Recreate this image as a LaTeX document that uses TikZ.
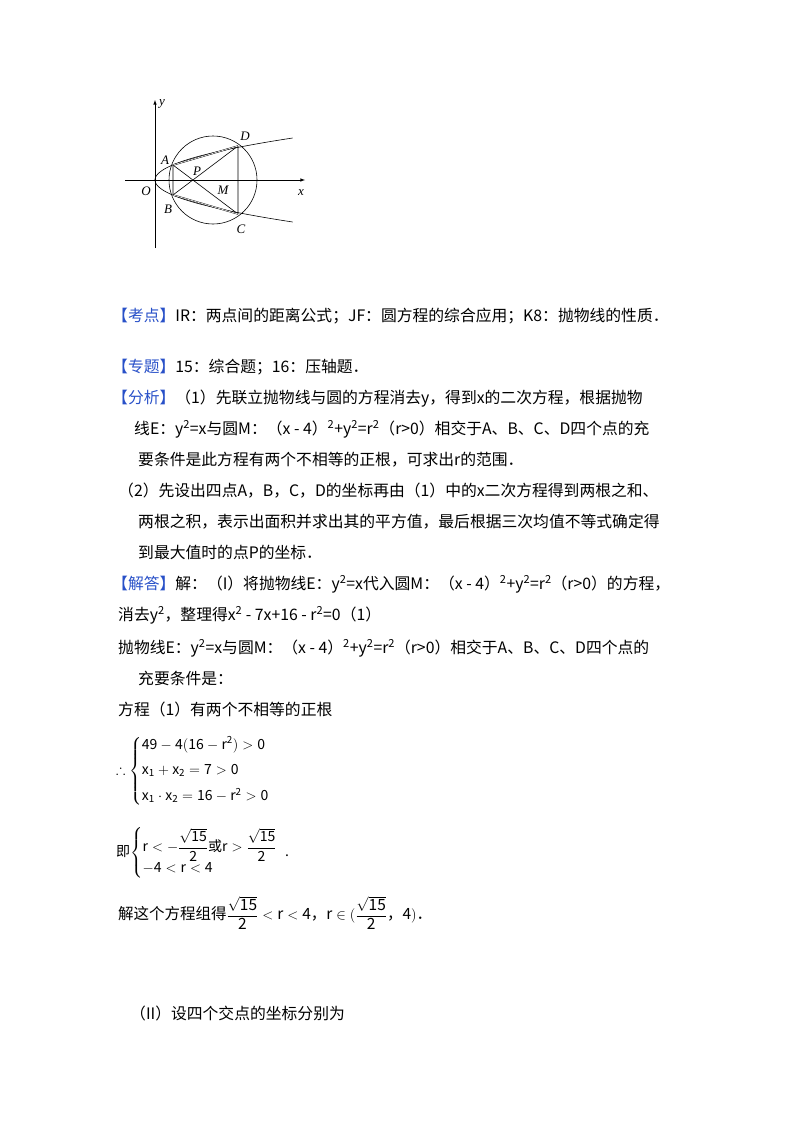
\documentclass[tikz,border=0pt]{standalone}
\usepackage{amsmath,amssymb}
\usepackage{fontspec}
\setmainfont{Noto Sans CJK SC}
\newfontfamily\serifm{Liberation Serif}
\begin{document}
\begin{tikzpicture}[x=1pt,y=-1pt,
  txt/.style={anchor=base west,inner sep=0,font=\fontsize{15.8}{17}\selectfont},
  lab/.style={font=\serifm\itshape\fontsize{13}{14}\selectfont,inner sep=1pt},
  mth/.style={anchor=west,inner sep=0,font=\fontsize{14}{16}\selectfont},
  geo/.style={line width=0.6pt}]
\useasboundingbox (0,0) rectangle (800,1132);
% figure
\coordinate (O) at (155,180);
\coordinate (M) at (213,180);
\coordinate (A) at (173,165);
\coordinate (B) at (173,195);
\coordinate (D) at (238,146);
\coordinate (C) at (238,214);
\draw[geo,-latex] (125,180) -- (305,180);
\draw[geo,-latex] (155,248) -- (155,100);
\draw[geo] (M) circle (44);
\draw[geo,domain=-42:42,samples=60] plot ({155+0.078*\x*\x},{180+\x});
\draw[geo] (A) -- (D) (A) -- (B) (D) -- (C) (A) -- (C) (B) -- (D);
\draw[geo,double,double distance=0.6pt,line width=0.4pt] (B) -- (C);
\draw[geo,double,double distance=0.6pt,line width=0.4pt] (A) -- (D);
\node[lab] (ly) at (162,104) {y};
\node[lab] (lx) at (301,193) {x};
\node[lab] (lO) at (146,191) {O};
\node[lab] (lA) at (165,160) {A};
\node[lab] (lB) at (168,209) {B};
\node[lab] (lC) at (241,229) {C};
\node[lab] (lD) at (245,136) {D};
\node[lab] (lP) at (197,171) {P};
\node[lab] (lM) at (223,190) {M};
% text
\definecolor{kblue}{RGB}{40,80,200}
\node[txt] (t1) at (112,321) {{\color{kblue}【考点】}IR：两点间的距离公式；JF：圆方程的综合应用；K8：抛物线的性质．};
\node[txt] (t2) at (112,372) {{\color{kblue}【专题】}15：综合题；16：压轴题．};
\node[txt] (t3) at (112,403) {{\color{kblue}【分析】}（1）先联立抛物线与圆的方程消去y，得到x的二次方程，根据抛物};
\node[txt] (t4) at (134,434) {线E：y\textsuperscript{2}=x与圆M：（x - 4）\textsuperscript{2}+y\textsuperscript{2}=r\textsuperscript{2}（r>0）相交于A、B、C、D四个点的充};
\node[txt] (t5) at (138,465) {要条件是此方程有两个不相等的正根，可求出r的范围．};
\node[txt] (t6) at (118,496) {（2）先设出四点A，B，C，D的坐标再由（1）中的x二次方程得到两根之和、};
\node[txt] (t7) at (138,527) {两根之积，表示出面积并求出其的平方值，最后根据三次均值不等式确定得};
\node[txt] (t8) at (138,558) {到最大值时的点P的坐标．};
\node[txt] (t9) at (112,589) {{\color{kblue}【解答】}解：（I）将抛物线E：y\textsuperscript{2}=x代入圆M：（x - 4）\textsuperscript{2}+y\textsuperscript{2}=r\textsuperscript{2}（r>0）的方程，};
\node[txt] (t10) at (118,620) {消去y\textsuperscript{2}，整理得x\textsuperscript{2} - 7x+16 - r\textsuperscript{2}=0（1）};
\node[txt] (t11) at (118,653) {抛物线E：y\textsuperscript{2}=x与圆M：（x - 4）\textsuperscript{2}+y\textsuperscript{2}=r\textsuperscript{2}（r>0）相交于A、B、C、D四个点的};
\node[txt] (t12) at (138,684) {充要条件是：};
\node[txt] (t13) at (118,715) {方程（1）有两个不相等的正根};
\node[mth] (m1) at (116,771) {$\therefore\left\{\begin{array}{@{}l}\mathrm{49-4(16-r^2)>0}\\[9pt] \mathrm{x_1+x_2=7>0}\\[9pt] \mathrm{x_1\cdot x_2=16-r^2>0}\end{array}\right.$};
\node[mth] (m2) at (116,853) {即$\left\{\begin{array}{@{}l}\mathrm{r<-\dfrac{\sqrt{15}}{2}}\text{或}\mathrm{r>\dfrac{\sqrt{15}}{2}}\\[3pt] \mathrm{-4<r<4}\end{array}\right.$\,.};
\node[mth,font=\fontsize{15.5}{17}\selectfont] (m3) at (118,913) {解这个方程组得$\mathrm{\dfrac{\sqrt{15}}{2}<r<4}$，$\mathrm{r\in(\dfrac{\sqrt{15}}{2}}$，$\mathrm{4)}$．};
\node[txt] (t14) at (130,1019) {（II）设四个交点的坐标分别为};
\end{tikzpicture}
\end{document}
